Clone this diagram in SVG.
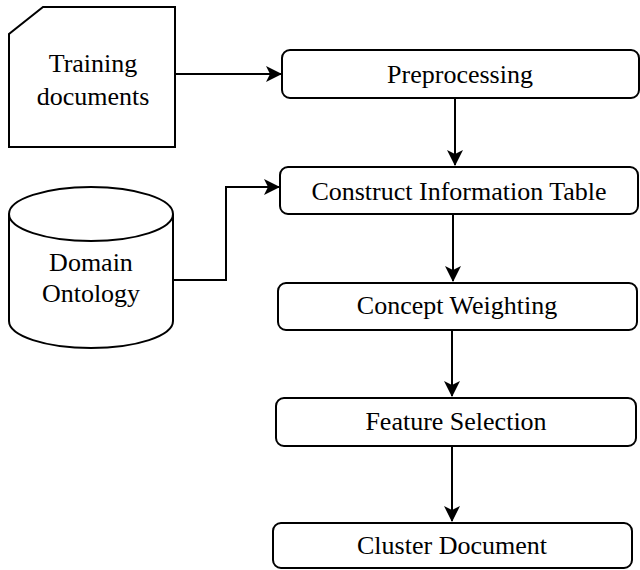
<svg xmlns="http://www.w3.org/2000/svg" width="640" height="570" viewBox="0 0 640 570">
  <defs>
    <style>
      .shape { fill: #ffffff; stroke: #000000; stroke-width: 2; }
      .edge { fill: none; stroke: #000000; stroke-width: 2; }
      .label { font-family: "Liberation Serif", "Times New Roman", serif; font-size: 26px; fill: #000000; text-anchor: middle; }
    </style>
    <marker id="arrow" viewBox="0 0 16 16" refX="15" refY="8" markerWidth="16" markerHeight="16" markerUnits="userSpaceOnUse" orient="auto">
      <path d="M0,0 L16,8 L0,16 L4,8 Z" fill="#000000"/>
    </marker>
  </defs>
  <rect width="640" height="570" fill="#ffffff"/>

  <!-- connectors -->
  <g id="connectors">
    <path class="edge" d="M175,74 L281,74" marker-end="url(#arrow)"/>
    <path class="edge" d="M173,280 L226,280 L226,187 L279,187" marker-end="url(#arrow)"/>
    <path class="edge" d="M455,98 L455,165" marker-end="url(#arrow)"/>
    <path class="edge" d="M453,214 L453,281" marker-end="url(#arrow)"/>
    <path class="edge" d="M452,330 L452,396" marker-end="url(#arrow)"/>
    <path class="edge" d="M452,446 L452,521" marker-end="url(#arrow)"/>
  </g>

  <!-- document input -->
  <g id="training-documents">
    <path class="shape" d="M43,7 L175,7 L175,147 L9,147 L9,34 Z"/>
    <text class="label" x="93" y="72">Training</text>
    <text class="label" x="93" y="105">documents</text>
  </g>

  <!-- ontology store -->
  <g id="domain-ontology">
    <path class="shape" d="M9,214 L9,321 A82,27 0 0 0 173,321 L173,214"/>
    <ellipse class="shape" cx="91" cy="214" rx="82" ry="27"/>
    <text class="label" x="91" y="271">Domain</text>
    <text class="label" x="91" y="302">Ontology</text>
  </g>

  <!-- processing steps -->
  <g id="preprocessing">
    <rect class="shape" x="282" y="50" width="357" height="48" rx="8"/>
    <text class="label" x="460" y="83">Preprocessing</text>
  </g>
  <g id="construct-information-table">
    <rect class="shape" x="280" y="167" width="358" height="47" rx="8"/>
    <text class="label" x="459" y="200">Construct Information Table</text>
  </g>
  <g id="concept-weighting">
    <rect class="shape" x="278" y="283" width="359" height="47" rx="8"/>
    <text class="label" x="457" y="314">Concept Weighting</text>
  </g>
  <g id="feature-selection">
    <rect class="shape" x="276" y="398" width="360" height="48" rx="8"/>
    <text class="label" x="456" y="430">Feature Selection</text>
  </g>
  <g id="cluster-document">
    <rect class="shape" x="273" y="523" width="359" height="45" rx="8"/>
    <text class="label" x="452" y="554">Cluster Document</text>
  </g>
</svg>
